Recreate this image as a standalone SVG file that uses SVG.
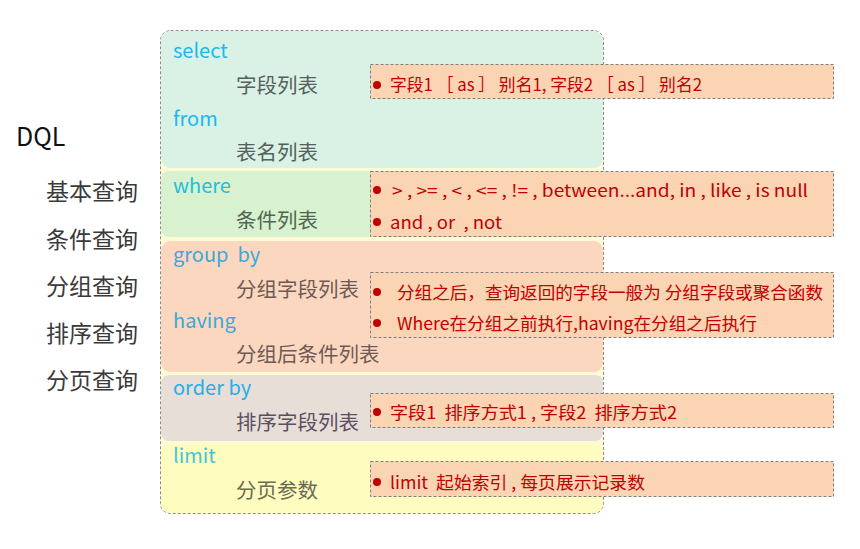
<svg xmlns="http://www.w3.org/2000/svg" width="860" height="549" viewBox="0 0 860 549">
<style>
text{font-family:"Noto Sans CJK SC","Microsoft YaHei","Liberation Sans",sans-serif;white-space:pre;}
.side{font-size:23px;fill:#3a3a3a;}
.kw{font-size:20px;}
.lab{font-size:20.5px;}
.note{fill:#fbd4b4;stroke:#7f7f7f;stroke-width:1;stroke-dasharray:3 2;}
.nt{font-size:17px;fill:#c00000;}
.dot{fill:#c00000;}
.band{stroke:none;}
</style>
<rect width="860" height="549" fill="#ffffff"/>
<g id="side">
<text x="16" y="146" style="font-size:25px;fill:#111">DQL</text>
<text class="side" x="46" y="200">基本查询</text>
<text class="side" x="46" y="248">条件查询</text>
<text class="side" x="46" y="295">分组查询</text>
<text class="side" x="46" y="342">排序查询</text>
<text class="side" x="46" y="389">分页查询</text>
</g>
<g id="frame">
<rect x="160.5" y="30.5" width="443" height="483" rx="10" fill="#fdfbd6" stroke="#8a8a8a" stroke-dasharray="3 2"/>
</g>
<g id="band-select">
<rect class="band" x="161" y="31" width="442" height="137" rx="9" fill="#d9f2e5"/>
<text class="kw" x="173" y="58" fill="#1db8ee">select</text>
<text class="lab" x="236" y="93" fill="#55605c">字段列表</text>
<text class="kw" x="173" y="126" fill="#1db8ee">from</text>
<text class="lab" x="236" y="160" fill="#55605c">表名列表</text>
</g>
<g id="band-where">
<rect class="band" x="161" y="171" width="442" height="66" rx="8" fill="#d8f1cf"/>
<text class="kw" x="173" y="193" fill="#25bce0">where</text>
<text class="lab" x="236" y="228" fill="#4f6650">条件列表</text>
</g>
<g id="band-group">
<rect class="band" x="161" y="241" width="442" height="131" rx="9" fill="#fcd7c0"/>
<text class="kw" x="173" y="262" fill="#3aa9da" xml:space="preserve">group  by</text>
<text class="lab" x="236" y="297" fill="#6e5a55">分组字段列表</text>
<text class="kw" x="173" y="328" fill="#3aa9da">having</text>
<text class="lab" x="236" y="362" fill="#6e5a55">分组后条件列表</text>
</g>
<g id="band-order">
<rect class="band" x="161" y="375" width="442" height="66" rx="8" fill="#e7ded8"/>
<text class="kw" x="173" y="395" fill="#27aee8">order by</text>
<text class="lab" x="236" y="430" fill="#5a5060">排序字段列表</text>
</g>
<g id="band-limit">
<rect class="band" x="161" y="444" width="442" height="69" rx="9" fill="#fffcc0"/>
<text class="kw" x="173" y="463" fill="#3ec6de">limit</text>
<text class="lab" x="236" y="498" fill="#6c6a55">分页参数</text>
</g>
<g id="note-select">
<rect class="note" x="370.5" y="64.5" width="463" height="34"/>
<circle class="dot" cx="377" cy="85" r="4"/>
<text class="nt" x="390" y="91" xml:space="preserve" textLength="312" lengthAdjust="spacingAndGlyphs">字段1 ［ as ］ 别名1, 字段2 ［ as ］ 别名2</text>
</g>
<g id="note-where">
<rect class="note" x="370.5" y="171.5" width="463" height="65"/>
<circle class="dot" cx="377" cy="190" r="4"/>
<text class="nt" x="392" y="197" textLength="416" lengthAdjust="spacingAndGlyphs">&gt; , &gt;= , &lt; , &lt;= , != , between...and, in , like , is null</text>
<circle class="dot" cx="377" cy="222" r="4"/>
<text class="nt" x="390" y="229" xml:space="preserve" textLength="112" lengthAdjust="spacingAndGlyphs">and , or  , not</text>
</g>
<g id="note-group">
<rect class="note" x="370.5" y="272.5" width="463" height="65"/>
<circle class="dot" cx="377" cy="292" r="4"/>
<text class="nt" x="397" y="299" textLength="426" lengthAdjust="spacingAndGlyphs">分组之后，查询返回的字段一般为 分组字段或聚合函数</text>
<circle class="dot" cx="377" cy="323" r="4"/>
<text class="nt" x="397" y="330" textLength="360" lengthAdjust="spacingAndGlyphs">Where在分组之前执行,having在分组之后执行</text>
</g>
<g id="note-order">
<rect class="note" x="370.5" y="393.5" width="463" height="34"/>
<circle class="dot" cx="377" cy="412" r="4"/>
<text class="nt" x="390" y="419" xml:space="preserve" textLength="287" lengthAdjust="spacingAndGlyphs">字段1  排序方式1 , 字段2  排序方式2</text>
</g>
<g id="note-limit">
<rect class="note" x="370.5" y="461.5" width="463" height="35"/>
<circle class="dot" cx="377" cy="482" r="4"/>
<text class="nt" x="390" y="489" xml:space="preserve" textLength="255" lengthAdjust="spacingAndGlyphs">limit  起始索引 , 每页展示记录数</text>
</g>
</svg>
